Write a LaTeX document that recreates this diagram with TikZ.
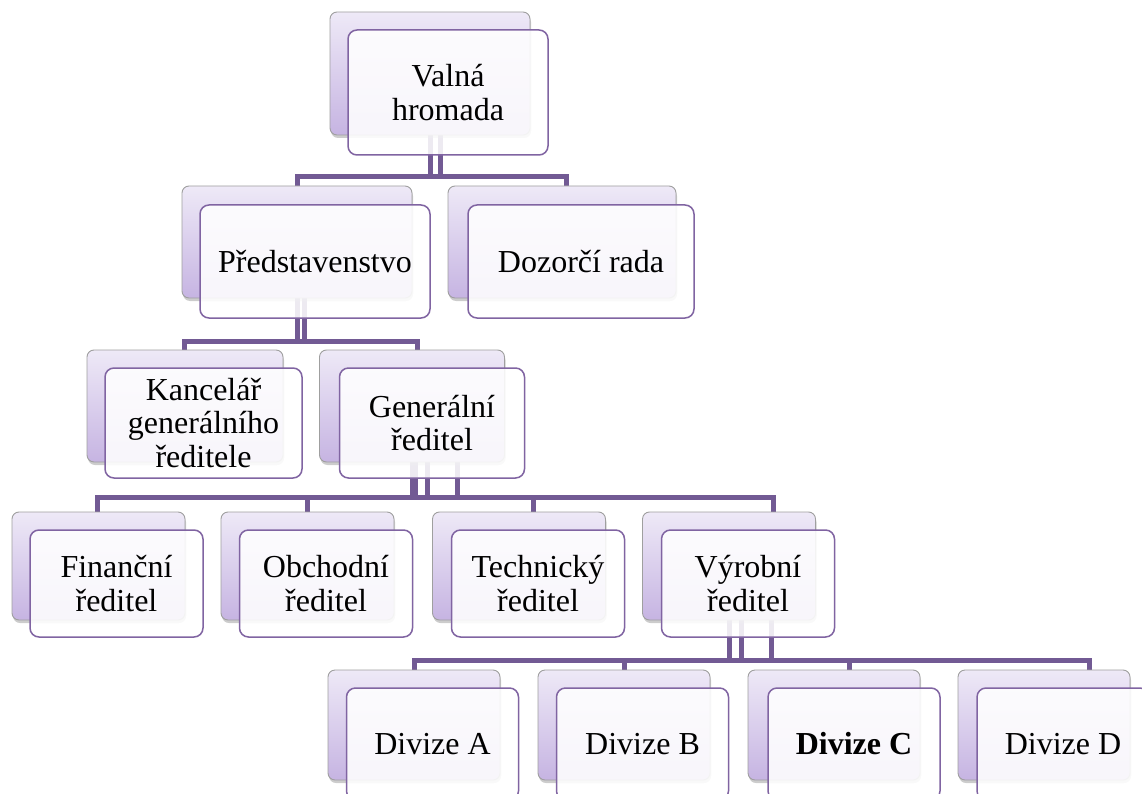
\documentclass[tikz,border=0pt]{standalone}
\usepackage{fontspec}
\setmainfont{Liberation Serif}
\usetikzlibrary{shadows,backgrounds}
\definecolor{linepurple}{RGB}{114,90,148}
\definecolor{boxpurple}{RGB}{128,100,162}
\definecolor{lavtop}{RGB}{238,233,247}
\definecolor{lavbot}{RGB}{198,180,226}
\tikzset{every picture/.style={line width=0.75pt}}
\tikzset{
  backbox/.style={draw=gray!75, line width=0.9pt, rounded corners=7pt,
    top color=lavtop, bottom color=lavbot, inner sep=0pt,
    drop shadow={shadow xshift=1pt, shadow yshift=-3pt, opacity=0.4}},
  textbox/.style={draw=boxpurple, line width=1.5pt, rounded corners=9pt,
    fill=white, fill opacity=0.88, text opacity=1, align=center, inner sep=0pt,
    font=\fontsize{32}{33.5}\selectfont},
  conn/.style={draw=linepurple, line width=5pt}
}

\begin{document}
\begin{tikzpicture}[x=1pt,y=-1pt]
    \useasboundingbox (0,0) rectangle (1142,794);

    % Valna hromada
    \node[backbox, minimum width=200pt, minimum height=123pt] (vh-b) at (430,73.5) {};
    \node[textbox, minimum width=200pt, minimum height=125pt] (vh) at (448,92.5) {Valná\\hromada};

    % druha uroven
    \node[backbox, minimum width=230pt, minimum height=112pt] (pr-b) at (297,242) {};
    \node[textbox, minimum width=230pt, minimum height=113pt] (pr) at (315,261.5) {Představenstvo};
    \node[backbox, minimum width=228pt, minimum height=112pt] (dr-b) at (562,242) {};
    \node[textbox, minimum width=226pt, minimum height=113pt] (dr) at (581,261.5) {Dozorčí rada};

    % treti uroven
    \node[backbox, minimum width=196pt, minimum height=112pt] (kg-b) at (185,406) {};
    \node[textbox, minimum width=197pt, minimum height=110pt] (kg) at (203.5,423) {Kancelář\\generálního\\ředitele};
    \node[backbox, minimum width=185pt, minimum height=112pt] (gr-b) at (412,406) {};
    \node[textbox, minimum width=185pt, minimum height=110pt] (gr) at (432,423) {Generální\\ředitel};

    % reditele
    \node[backbox, minimum width=173pt, minimum height=108pt] (fr-b) at (98.5,566) {};
    \node[textbox, minimum width=173pt, minimum height=107pt] (fr) at (116.5,583.5) {Finanční\\ředitel};
    \node[backbox, minimum width=173pt, minimum height=108pt] (or-b) at (307.5,566) {};
    \node[textbox, minimum width=173pt, minimum height=107pt] (or) at (326,583.5) {Obchodní\\ředitel};
    \node[backbox, minimum width=173pt, minimum height=108pt] (tr-b) at (519,566) {};
    \node[textbox, minimum width=173pt, minimum height=107pt] (tr) at (538,583.5) {Technický\\ředitel};
    \node[backbox, minimum width=173pt, minimum height=108pt] (vr-b) at (729,566) {};
    \node[textbox, minimum width=173pt, minimum height=107pt] (vr) at (748,583.5) {Výrobní\\ředitel};

    % divize
    \node[backbox, minimum width=172pt, minimum height=110pt] (da-b) at (414,725) {};
    \node[textbox, minimum width=172pt, minimum height=112pt] (da) at (432.5,744) {Divize A};
    \node[backbox, minimum width=172pt, minimum height=110pt] (db-b) at (624,725) {};
    \node[textbox, minimum width=172pt, minimum height=112pt] (db) at (642.5,744) {Divize B};
    \node[backbox, minimum width=172pt, minimum height=110pt] (dc-b) at (834,725) {};
    \node[textbox, minimum width=172pt, minimum height=112pt] (dc) at (854,744) {\textbf{Divize C}};
    \node[backbox, minimum width=172pt, minimum height=110pt] (dd-b) at (1044,725) {};
    \node[textbox, minimum width=172pt, minimum height=112pt] (dd) at (1063,744) {Divize D};

    % spojnice
    \begin{scope}[on background layer]
        \coordinate (bus1) at (430,177);
        \coordinate (bus2) at (297,341);
        \coordinate (bus3) at (412,497);
        \coordinate (bus4) at (729,660);
        \draw[conn] (vh-b.south) |- (bus1) -| (pr-b.north);
        \draw[conn] ([xshift=10pt]vh-b.south) |- (bus1) -| ([xshift=4pt]dr-b.north);
        \draw[conn] (pr-b.south) |- (bus2) -| ([xshift=-1pt]kg-b.north);
        \draw[conn] ([xshift=7pt]pr-b.south) |- (bus2) -| ([xshift=5pt]gr-b.north);
        \draw[conn] (gr-b.south) |- (bus3) -| ([xshift=-1.5pt]fr-b.north);
        \draw[conn] ([xshift=3pt]gr-b.south) |- (bus3) -| (or-b.north);
        \draw[conn] ([xshift=15pt]gr-b.south) |- (bus3) -| ([xshift=14pt]tr-b.north);
        \draw[conn] ([xshift=45pt]gr-b.south) |- (bus3) -| ([xshift=44pt]vr-b.north);
        \draw[conn] (vr-b.south) |- (bus4) -| (da-b.north);
        \draw[conn] (vr-b.south) |- (bus4) -| (db-b.north);
        \draw[conn] ([xshift=12pt]vr-b.south) |- (bus4) -| ([xshift=15pt]dc-b.north);
        \draw[conn] ([xshift=42pt]vr-b.south) |- (bus4) -| ([xshift=45pt]dd-b.north);
    \end{scope}
\end{tikzpicture}
\end{document}
